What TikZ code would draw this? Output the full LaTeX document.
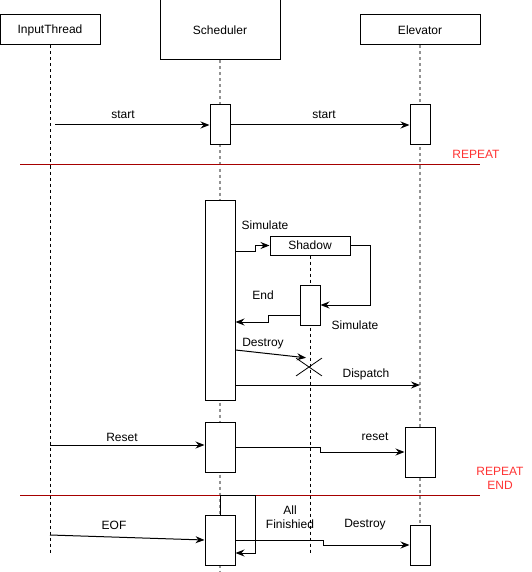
\documentclass[tikz,border=0pt]{standalone}
\usepackage{fontspec}
\setmainfont{Liberation Sans}
\usetikzlibrary{arrows.meta,shapes.misc}
\tikzset{
  box/.style={draw, fill=white, inner sep=0pt, line width=1pt},
  life/.style={draw=gray!85, line width=1.5pt, dash pattern=on 3pt off 3pt},
  thinlife/.style={draw=black, line width=0.8pt, dash pattern=on 3pt off 3pt},
  msg/.style={line width=1pt, -{Stealth[length=9pt,width=7pt,inset=3pt]}},
  lbl/.style={inner sep=0pt},
  sep/.style={draw=red!65!black, line width=1pt},
  loopnote/.style={text=red!80!white, inner sep=0pt, align=center},
}

\begin{document}
\begin{tikzpicture}[x=1pt, y=-1pt, font=\fontsize{12}{14}\selectfont]
		%%%%% START %%%%%
		\useasboundingbox (0,0) rectangle (531,572);
		
		\node[box, minimum width=100pt, minimum height=30pt] (input) at (50,30) {InputThread};
		\node[box, minimum width=120pt, minimum height=60pt] (sched) at (220,30) {Scheduler};
		\node[box, minimum width=120pt, minimum height=30pt] (elev) at (420,30) {Elevator};
		
		\coordinate (inputend) at (50,555);
		\coordinate (schedend) at (220,572);
		\coordinate (elevend) at (420,565);
		\draw[thinlife] (input.south) -- (inputend);
		\draw[life] (sched.south) -- (schedend);
		\draw[life] (elev.south) -- (elevend);
		
		\coordinate (repA) at (20,165);
		\coordinate (repB) at (480,165);
		\draw[sep] (repA) -- (repB);
		\node[loopnote] (rep) at (476,154) {REPEAT};
		\coordinate (endA) at (20,495);
		\coordinate (endB) at (480,495);
		\draw[sep] (endA) -- (endB);
		\node[loopnote] (repend) at (500,478) {REPEAT\\END};
		
		\node[box, minimum width=20pt, minimum height=40pt] (s1) at (220,125) {};
		\node[box, minimum width=20pt, minimum height=40pt] (e1) at (420,125) {};
		\coordinate (instart) at (55,125);
		\draw[msg] (instart) -- (s1.west);
		\draw[msg] (s1.east) -- (e1.west);
		\node[lbl] (startA) at (123,115) {start};
		\node[lbl] (startB) at (324,115) {start};
		
		\node[box, minimum width=30pt, minimum height=200pt] (s2) at (220,300) {};
		\node[box, minimum width=80pt, minimum height=19pt] (shadow) at (310,245.5) {Shadow};
		\coordinate (shadowend) at (310,555);
		\draw[thinlife] (shadow.south) -- (shadowend);
		\node[box, minimum width=20pt, minimum height=40pt] (sh1) at (310,305) {};
		\node[cross out, draw, line width=0.8pt, minimum width=25pt, minimum height=17pt, inner sep=0pt] (kill) at (309,367) {};
		\draw[msg] (s2.east |- 0,251) -- (255,251) |- (shadow.west);
		\draw[msg] (shadow.east) -| (370,305) -- (sh1.east);
		\draw[msg] (sh1.west |- 0,315) -- (268,315) |- (s2.east |- 0,322);
		\draw[msg, shorten >=3pt] (s2.east |- 0,350) -- (kill.north);
		\coordinate (elevdisp) at (420,385);
		\draw[msg] (s2.east |- elevdisp) -- (elevdisp);
		\node[lbl] (simA) at (265,225) {Simulate};
		\node[lbl] (endlbl) at (263,295) {End};
		\node[lbl] (simB) at (355,325) {Simulate};
		\node[lbl] (destA) at (263,344) {Destroy};
		\node[lbl] (disp) at (366,374) {Dispatch};
		
		\node[box, minimum width=30pt, minimum height=50pt] (s3) at (220,447) {};
		\node[box, minimum width=30pt, minimum height=50pt] (e2) at (420,452) {};
		\coordinate (inreset) at (50,445);
		\draw[msg] (inreset) -- (s3.west |- inreset);
		\draw[msg] (s3.east) -- (320,447) |- (e2.west);
		\node[lbl] (resetA) at (122,437) {Reset};
		\node[lbl] (resetB) at (375,437) {reset};
		
		\node[box, minimum width=30pt, minimum height=50pt] (s4) at (220,540) {};
		\node[box, minimum width=20pt, minimum height=40pt] (e3) at (420,545) {};
		\coordinate (ineof) at (50,535);
		\draw[msg] (ineof) -- (s4.west);
		\draw[msg] (s4.north) -- (s4.north |- endA) -| (255,553) -- (s4.east |- 0,553);
		\draw[msg] (s4.east) -- (323,540) |- (e3.west);
		\node[lbl] (eof) at (114,525) {EOF};
		\node[lbl, align=center] (allfin) at (290,517) {All\\Finishied};
		\node[lbl] (destB) at (365,525) {Destroy};
		%%%%% END %%%%%
	\end{tikzpicture}
\end{document}
